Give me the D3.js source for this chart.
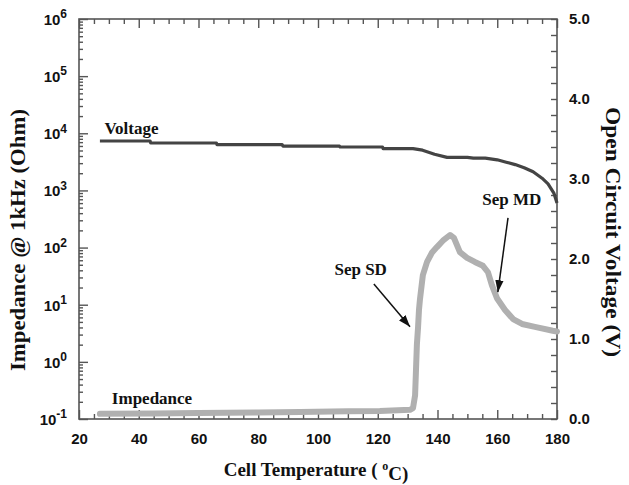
<!DOCTYPE html>
<html>
<head>
<meta charset="utf-8">
<script src="https://cdn.jsdelivr.net/npm/d3@7"></script>
<style>
  html, body { margin: 0; padding: 0; background: #fff; }
  svg { display: block; }
</style>
</head>
<body>
<div id="chart"></div>
<script>
// Cell temperature (°C) vs open circuit voltage (V)
const voltageTemp = [27, 43.8, 44, 66, 66.2, 88, 88.3, 107.2, 107.4, 121.6, 121.8, 131.8, 135, 139, 143.2, 150, 152, 156, 160, 163, 166, 169, 172, 175, 177, 179, 180];
const voltageValue = [3.475, 3.475, 3.45, 3.45, 3.43, 3.43, 3.41, 3.41, 3.40, 3.40, 3.38, 3.38, 3.36, 3.31, 3.27, 3.27, 3.26, 3.26, 3.24, 3.21, 3.18, 3.14, 3.09, 3.01, 2.94, 2.82, 2.70];

// Cell temperature (°C) vs impedance at 1 kHz (Ohm)
const impedanceTemp = [27, 45, 60, 80, 94, 110, 120.7, 130.8, 131.8, 132.5, 132.8, 133.1, 133.5, 133.8, 134.1, 135.1, 136.5, 138.1, 139.8, 141.8, 144.2, 145.5, 147.5, 149.9, 152.5, 155.2, 156.9, 158.2, 159.9, 162.6, 165.3, 168.3, 172.6, 178.6, 180];
const impedanceValue = [0.123, 0.125, 0.127, 0.13, 0.133, 0.137, 0.138, 0.145, 0.155, 0.26, 0.72, 2.0, 4.1, 8.1, 12, 33, 56, 81, 102, 132, 166, 148, 83, 66, 56, 48, 37, 22, 13, 8.1, 5.6, 4.6, 4.1, 3.5, 3.4];

// Axis ticks
const tempTicks = [20, 40, 60, 80, 100, 120, 140, 160, 180];
const impedanceExponents = [-1, 0, 1, 2, 3, 4, 5, 6];
const voltageTicks = [0, 1, 2, 3, 4, 5];

const W = 629, H = 485;
const margin = { left: 79, right: 72, top: 19, bottom: 66 };
const iw = W - margin.left - margin.right;
const ih = H - margin.top - margin.bottom;

const svg = d3.select("#chart").append("svg").attr("width", W).attr("height", H);
const g = svg.append("g").attr("transform", `translate(${margin.left},${margin.top})`);

const x = d3.scaleLinear().domain([20, 180]).range([0, iw]);
const yZ = d3.scaleLog().domain([0.1, 1e6]).range([ih, 0]);
const yV = d3.scaleLinear().domain([0, 5]).range([ih, 0]);

const axisColor = "#555";
const tickFont = "'Liberation Sans', Arial, sans-serif";
const titleFont = "'Liberation Serif', 'Times New Roman', serif";

function styleAxis(sel) {
  sel.select(".domain").remove();
  sel.selectAll(".tick line").attr("stroke", axisColor).attr("stroke-width", 1.4);
  sel.selectAll("text").attr("font-family", tickFont).attr("font-weight", "bold")
     .attr("font-size", 15).attr("fill", "#111");
}

// Temperature axis: minor ticks every 5, majors every 20 (inward, bottom and top)
const minorT = d3.range(20, 181, 5).filter(v => !tempTicks.includes(v));
g.append("g").attr("transform", `translate(0,${ih})`)
  .call(d3.axisBottom(x).tickValues(minorT).tickSize(-5).tickFormat(""))
  .call(styleAxis);
g.append("g").attr("transform", `translate(0,${ih})`)
  .call(d3.axisBottom(x).tickValues(tempTicks).tickSize(-9).tickPadding(14).tickFormat(d3.format("d")))
  .call(styleAxis);
g.append("g")
  .call(d3.axisTop(x).tickValues(minorT).tickSize(-5).tickFormat(""))
  .call(styleAxis);
g.append("g")
  .call(d3.axisTop(x).tickValues(tempTicks).tickSize(-9).tickFormat(""))
  .call(styleAxis);

// Impedance log axis (left)
const minorZ = [];
impedanceExponents.slice(0, -1).forEach(e => {
  for (let k = 2; k <= 9; k++) minorZ.push(k * Math.pow(10, e));
});
const majorZ = impedanceExponents.map(e => Math.pow(10, e));
g.append("g")
  .call(d3.axisLeft(yZ).tickValues(minorZ).tickSize(-4).tickFormat(""))
  .call(styleAxis);
const zAxis = g.append("g")
  .call(d3.axisLeft(yZ).tickValues(majorZ).tickSize(-9).tickPadding(12).tickFormat(""))
  .call(styleAxis);
zAxis.selectAll(".tick").each(function(d) {
  const e = Math.round(Math.log10(d));
  const t = d3.select(this).append("text")
    .attr("x", -12).attr("dy", "0.36em").attr("text-anchor", "end")
    .attr("font-family", tickFont).attr("font-weight", "bold").attr("font-size", 15).attr("fill", "#111");
  t.append("tspan").text("10");
  t.append("tspan").attr("dy", "-0.55em").attr("font-size", 12).text(String(e));
});

// Voltage axis (right)
g.append("g").attr("transform", `translate(${iw},0)`)
  .call(d3.axisRight(yV).tickValues(d3.range(0, 5.01, 0.2)).tickSize(-6).tickFormat(""))
  .call(styleAxis);
g.append("g").attr("transform", `translate(${iw},0)`)
  .call(d3.axisRight(yV).tickValues(voltageTicks).tickSize(0).tickPadding(12).tickFormat(d3.format(".1f")))
  .call(styleAxis);

// Frame
g.append("rect").attr("width", iw).attr("height", ih)
  .attr("fill", "none").attr("stroke", axisColor).attr("stroke-width", 1.6);

// Impedance curve
const zLine = d3.line().x((d, i) => x(impedanceTemp[i])).y((d) => yZ(d)).curve(d3.curveLinear);
g.append("path").datum(impedanceValue)
  .attr("d", zLine).attr("fill", "none").attr("stroke", "#b0b0b0")
  .attr("stroke-width", 6).attr("stroke-linejoin", "round").attr("stroke-linecap", "round");

// Voltage curve
const vLine = d3.line().x((d, i) => x(voltageTemp[i])).y((d) => yV(d)).curve(d3.curveLinear);
g.append("path").datum(voltageValue)
  .attr("d", vLine).attr("fill", "none").attr("stroke", "#444")
  .attr("stroke-width", 3.2).attr("stroke-linejoin", "round");

// Annotations
function label(txt, px, py) {
  g.append("text").attr("x", px).attr("y", py)
    .attr("font-family", titleFont).attr("font-weight", "bold").attr("font-size", 17)
    .attr("fill", "#111").text(txt);
}
label("Voltage", x(28.5), yV(3.475) - 7);
label("Impedance", x(31), yZ(0.123) - 10);
label("Sep SD", x(105.5), yZ(33));
label("Sep MD", x(155), yV(2.68));

svg.append("defs").append("marker").attr("id", "arrow")
  .attr("viewBox", "0 0 10 10").attr("refX", 10).attr("refY", 5)
  .attr("markerWidth", 12).attr("markerHeight", 12).attr("markerUnits", "userSpaceOnUse")
  .attr("orient", "auto")
  .append("path").attr("d", "M0,1.5 L10,5 L0,8.5 Z").attr("fill", "#111");

function arrow(t1, z1, t2, z2) {
  g.append("line")
    .attr("x1", x(t1)).attr("y1", yZ(z1)).attr("x2", x(t2)).attr("y2", yZ(z2))
    .attr("stroke", "#111").attr("stroke-width", 1.5).attr("marker-end", "url(#arrow)");
}
arrow(118.7, 23, 130.8, 4.1);
arrow(163.6, 330, 160.2, 16.6);

// Axis titles
svg.append("text")
  .attr("transform", `translate(25,${240}) rotate(-90)`)
  .attr("text-anchor", "middle")
  .attr("font-family", titleFont).attr("font-weight", "bold").attr("font-size", 20).attr("fill", "#111")
  .attr("textLength", 262).attr("lengthAdjust", "spacingAndGlyphs")
  .text("Impedance @ 1kHz (Ohm)");

svg.append("text")
  .attr("transform", `translate(606,${232}) rotate(90)`)
  .attr("text-anchor", "middle")
  .attr("font-family", titleFont).attr("font-weight", "bold").attr("font-size", 20).attr("fill", "#111")
  .attr("textLength", 250).attr("lengthAdjust", "spacingAndGlyphs")
  .text("Open Circuit Voltage (V)");

const xt = svg.append("text")
  .attr("x", margin.left + iw / 2 - 2).attr("y", 476)
  .attr("text-anchor", "middle")
  .attr("font-family", titleFont).attr("font-weight", "bold").attr("font-size", 19).attr("fill", "#111");
xt.append("tspan").text("Cell Temperature ( ");
xt.append("tspan").attr("dy", "-0.5em").attr("font-size", 12).text("o");
xt.append("tspan").attr("dy", "0.5em").text("C)");
</script>
</body>
</html>
